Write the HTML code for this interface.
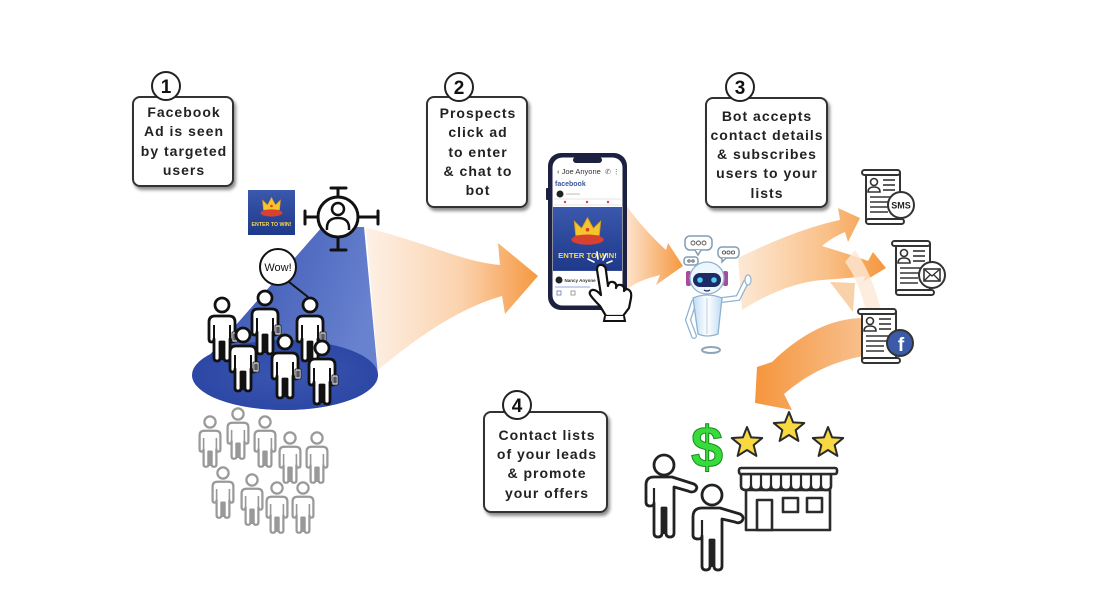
<!DOCTYPE html>
<html><head><meta charset="utf-8"><style>
html,body{margin:0;padding:0;background:#fff;}
svg{display:block;}
.bt{font-family:"Liberation Sans",Arial,sans-serif;font-weight:bold;font-size:14px;letter-spacing:1px;fill:#222;}
.num{font-family:"Liberation Sans",Arial,sans-serif;font-weight:bold;font-size:19px;fill:#111;}
</style></head><body>
<svg width="1100" height="602" viewBox="0 0 1100 602" xmlns="http://www.w3.org/2000/svg">
<defs>
 <filter id="sh" x="-10%" y="-10%" width="130%" height="140%"><feDropShadow dx="2" dy="3" stdDeviation="1.6" flood-color="#000" flood-opacity="0.45"/></filter>
 <linearGradient id="cone" x1="0" y1="0" x2="1" y2="0.3"><stop offset="0" stop-color="#2e4aa9"/><stop offset="1" stop-color="#6882cf"/></linearGradient>
 <radialGradient id="ell" cx="0.5" cy="0.5" r="0.6"><stop offset="0" stop-color="#3a56b2"/><stop offset="1" stop-color="#2a44a2"/></radialGradient>
 <linearGradient id="ar1" x1="366" y1="0" x2="540" y2="0" gradientUnits="userSpaceOnUse"><stop offset="0" stop-color="#fdf1e6"/><stop offset="0.55" stop-color="#fbd2ad"/><stop offset="1" stop-color="#f5963d"/></linearGradient>
 <linearGradient id="ar2" x1="624" y1="0" x2="684" y2="0" gradientUnits="userSpaceOnUse"><stop offset="0" stop-color="#fde6d2"/><stop offset="1" stop-color="#f5963d"/></linearGradient>
 <linearGradient id="ar3" x1="738" y1="0" x2="886" y2="0" gradientUnits="userSpaceOnUse"><stop offset="0" stop-color="#fde9d6"/><stop offset="0.6" stop-color="#f9c088"/><stop offset="1" stop-color="#f5963d"/></linearGradient>
 <linearGradient id="ar4" x1="862" y1="0" x2="755" y2="0" gradientUnits="userSpaceOnUse"><stop offset="0" stop-color="#f8bf8c"/><stop offset="1" stop-color="#f5963d"/></linearGradient>
 <linearGradient id="adbg" x1="0" y1="0" x2="0" y2="1"><stop offset="0" stop-color="#3a58ad"/><stop offset="1" stop-color="#1f398a"/></linearGradient>
 <linearGradient id="rb" x1="0" y1="0" x2="1" y2="0"><stop offset="0" stop-color="#bfdcf3"/><stop offset="0.5" stop-color="#ffffff"/><stop offset="1" stop-color="#bfdcf3"/></linearGradient>

 <g id="person">
  <path d="M -13,17 Q -13,11 -7,11 L 7,11 Q 13,11 13,17 L 13,34 Q 13,37 10.5,37 Q 8,37 8,34 L 8,53 Q 8,56 5,56 Q 2,56 2,53 L 2,37 L -2,37 L -2,53 Q -2,56 -5,56 Q -8,56 -8,53 L -8,34 Q -8,37 -10.5,37 Q -13,37 -13,34 Z" fill="#fff" stroke="#111" stroke-width="2.8" stroke-linejoin="round"/>
  <line x1="-8" y1="20" x2="-8" y2="34" stroke="#111" stroke-width="2"/>
  <line x1="8" y1="20" x2="8" y2="34" stroke="#111" stroke-width="2"/>
  <line x1="0" y1="37" x2="0" y2="55" stroke="#111" stroke-width="2.5"/>
  <circle cx="0" cy="0" r="7" fill="#fff" stroke="#111" stroke-width="2.8"/>
  <rect x="10" y="27" width="6" height="10" rx="1" fill="#fff" stroke="#222" stroke-width="1"/>
  <rect x="11.2" y="28.5" width="3.6" height="7" fill="#556"/>
 </g>
 <g id="gperson">
  <path d="M -13,17 Q -13,11 -7,11 L 7,11 Q 13,11 13,17 L 13,34 Q 13,37 10.5,37 Q 8,37 8,34 L 8,53 Q 8,56 5,56 Q 2,56 2,53 L 2,37 L -2,37 L -2,53 Q -2,56 -5,56 Q -8,56 -8,53 L -8,34 Q -8,37 -10.5,37 Q -13,37 -13,34 Z" fill="#fff" stroke="#999" stroke-width="2.8" stroke-linejoin="round"/>
  <line x1="-8" y1="20" x2="-8" y2="34" stroke="#999" stroke-width="2"/>
  <line x1="8" y1="20" x2="8" y2="34" stroke="#999" stroke-width="2"/>
  <line x1="0" y1="37" x2="0" y2="55" stroke="#999" stroke-width="2.5"/>
  <circle cx="0" cy="0" r="7" fill="#fff" stroke="#999" stroke-width="2.8"/>
 </g>
 <g id="ad">
  <rect x="0" y="0" width="47" height="45" fill="url(#adbg)"/>
  <path d="M 15.5,20 L 14.5,10 L 19.5,15 L 23.5,7.5 L 27.5,15 L 32.5,10 L 31.5,20 Z" fill="#f6c52c" stroke="#d99a12" stroke-width="0.6"/>
  <circle cx="23.5" cy="16" r="1.3" fill="#d8412f"/>
  <ellipse cx="23.5" cy="23" rx="11" ry="3.6" fill="#d8412f"/>
  <text x="23.5" y="36" text-anchor="middle" font-family="Liberation Sans,Arial,sans-serif" font-weight="bold" font-size="5" fill="#f7d84a" textLength="40" lengthAdjust="spacingAndGlyphs">ENTER TO WIN!</text>
 </g>
 <g id="doc">
  <rect x="6" y="3" width="34" height="48" fill="#fff" stroke="#333" stroke-width="2"/>
  <rect x="2" y="0" width="38" height="5" rx="2.5" fill="#fff" stroke="#333" stroke-width="2"/>
  <rect x="6" y="49" width="38" height="5" rx="2.5" fill="#fff" stroke="#333" stroke-width="2"/>
  <circle cx="14" cy="12" r="3.5" fill="#fff" stroke="#333" stroke-width="1.6"/>
  <path d="M 8,22 Q 8,17 14,17 Q 20,17 20,22 Z" fill="#fff" stroke="#333" stroke-width="1.6"/>
  <g stroke="#333" stroke-width="1.6">
   <line x1="23" y1="10" x2="35" y2="10"/><line x1="23" y1="15" x2="35" y2="15"/><line x1="23" y1="20" x2="35" y2="20"/>
   <line x1="10" y1="27" x2="34" y2="27"/><line x1="10" y1="32" x2="32" y2="32"/><line x1="10" y1="37" x2="28" y2="37"/><line x1="10" y1="42" x2="28" y2="42"/>
  </g>
 </g>
 <path id="star" d="M0,-16 L4.11,-5.66 L15.22,-4.94 L6.66,2.16 L9.40,12.94 L0,7 L-9.40,12.94 L-6.66,2.16 L-15.22,-4.94 L-4.11,-5.66 Z" fill="#f8d941" stroke="#2a2a2a" stroke-width="2" stroke-linejoin="round"/>
</defs>

<rect width="1100" height="602" fill="#fff"/>

<!-- ARROWS -->
<path d="M 366,228 C 420,240 462,262 500,265 L 498,243 L 538,276 L 505,314 L 502,296 C 460,308 420,335 378,370 Z" fill="url(#ar1)"/>
<path d="M 626,205 C 640,225 655,240 666,250 L 668,243 L 683,266 L 656,285 L 660,275 C 648,278 636,282 626,290 Z" fill="url(#ar2)"/>
<path d="M 738,258 C 770,242 810,226 840,220 L 838,208 L 860,218 L 848,242 L 845,232 C 836,236 829,240 822,246 C 838,251 855,256 868,261 L 873,252 L 886,268 L 863,282 L 865,276 C 850,278 836,279 822,280 C 798,282 770,292 742,310 Z" fill="url(#ar3)"/>
<path d="M 830,282 L 855,283 L 853,312 Z" fill="#f8c594" opacity="0.8"/>
<path d="M 855,250 C 870,270 880,300 885,330 L 870,335 C 865,300 858,280 845,262 Z" fill="#fde8d6" opacity="0.8"/>
<path d="M 864,318 C 830,318 800,335 772,362 L 757,367 L 755,403 L 792,410 L 784,394 C 805,376 830,362 864,356 Z" fill="url(#ar4)"/>

<!-- CONE -->
<path d="M 322,227 L 364,227 L 378,375 A 93,35 0 0 1 192,375 Z" fill="url(#cone)"/>
<ellipse cx="285" cy="375" rx="93" ry="35" fill="url(#ell)"/>

<!-- Ad small -->
<use href="#ad" transform="translate(248,190)"/>

<!-- Target -->
<g stroke="#111" stroke-width="3" fill="none" stroke-linecap="round">
 <line x1="331" y1="188" x2="346" y2="188"/><line x1="338" y1="188" x2="338" y2="197"/>
 <line x1="331" y1="250" x2="346" y2="250"/><line x1="338" y1="237" x2="338" y2="250"/>
 <line x1="305" y1="211" x2="305" y2="224"/><line x1="305" y1="217" x2="318" y2="217"/>
 <line x1="378" y1="211" x2="378" y2="224"/><line x1="358" y1="217" x2="378" y2="217"/>
</g>
<circle cx="338" cy="217" r="20" fill="#fff" stroke="#111" stroke-width="3"/>
<circle cx="338" cy="209" r="6" fill="#fff" stroke="#111" stroke-width="2.5"/>
<path d="M 327,230 Q 326,218 338,218 Q 350,218 349,230" fill="none" stroke="#111" stroke-width="2.5"/>

<!-- Wow -->
<line x1="284" y1="278" x2="308" y2="297" stroke="#111" stroke-width="2"/>
<circle cx="278" cy="267" r="18" fill="#fff" stroke="#111" stroke-width="2"/>
<text x="278" y="271" text-anchor="middle" font-family="Liberation Sans,Arial,sans-serif" font-size="11" fill="#111">Wow!</text>

<!-- people in cone -->
<use href="#person" transform="translate(222,305)"/>
<use href="#person" transform="translate(265,298)"/>
<use href="#person" transform="translate(310,305)"/>
<use href="#person" transform="translate(243,335)"/>
<use href="#person" transform="translate(285,342)"/>
<use href="#person" transform="translate(322,348)"/>

<!-- gray people -->
<use href="#gperson" transform="translate(210,422) scale(0.8)"/>
<use href="#gperson" transform="translate(238,414) scale(0.8)"/>
<use href="#gperson" transform="translate(265,422) scale(0.8)"/>
<use href="#gperson" transform="translate(290,438) scale(0.8)"/>
<use href="#gperson" transform="translate(317,438) scale(0.8)"/>
<use href="#gperson" transform="translate(223,473) scale(0.8)"/>
<use href="#gperson" transform="translate(252,480) scale(0.8)"/>
<use href="#gperson" transform="translate(277,488) scale(0.8)"/>
<use href="#gperson" transform="translate(303,488) scale(0.8)"/>

<!-- BOX 1 -->
<rect x="133" y="97" width="100" height="89" rx="7" fill="#fff" stroke="#333" stroke-width="2" filter="url(#sh)"/>
<circle cx="166" cy="86" r="14" fill="#fff" stroke="#222" stroke-width="2"/>
<text class="num" x="166" y="93" text-anchor="middle">1</text>
<text class="bt" x="184" y="117" text-anchor="middle">Facebook</text>
<text class="bt" x="184" y="136" text-anchor="middle">Ad is seen</text>
<text class="bt" x="184" y="156" text-anchor="middle">by targeted</text>
<text class="bt" x="184" y="175" text-anchor="middle">users</text>

<!-- BOX 2 -->
<rect x="427" y="97" width="100" height="110" rx="7" fill="#fff" stroke="#333" stroke-width="2" filter="url(#sh)"/>
<circle cx="459" cy="87" r="14" fill="#fff" stroke="#222" stroke-width="2"/>
<text class="num" x="459" y="94" text-anchor="middle">2</text>
<text class="bt" x="478" y="118" text-anchor="middle">Prospects</text>
<text class="bt" x="478" y="137" text-anchor="middle">click ad</text>
<text class="bt" x="478" y="157" text-anchor="middle">to enter</text>
<text class="bt" x="478" y="176" text-anchor="middle">&amp; chat to</text>
<text class="bt" x="478" y="195" text-anchor="middle">bot</text>

<!-- BOX 3 -->
<rect x="706" y="98" width="121" height="109" rx="7" fill="#fff" stroke="#333" stroke-width="2" filter="url(#sh)"/>
<circle cx="740" cy="87" r="14" fill="#fff" stroke="#222" stroke-width="2"/>
<text class="num" x="740" y="94" text-anchor="middle">3</text>
<text class="bt" x="767" y="121" text-anchor="middle">Bot accepts</text>
<text class="bt" x="767" y="140" text-anchor="middle">contact details</text>
<text class="bt" x="767" y="159" text-anchor="middle">&amp; subscribes</text>
<text class="bt" x="767" y="178" text-anchor="middle">users to your</text>
<text class="bt" x="767" y="198" text-anchor="middle">lists</text>

<!-- BOX 4 -->
<rect x="484" y="412" width="123" height="100" rx="7" fill="#fff" stroke="#333" stroke-width="2" filter="url(#sh)"/>
<circle cx="517" cy="405" r="14" fill="#fff" stroke="#222" stroke-width="2"/>
<text class="num" x="517" y="412" text-anchor="middle">4</text>
<text class="bt" x="547" y="440" text-anchor="middle">Contact lists</text>
<text class="bt" x="547" y="459" text-anchor="middle">of your leads</text>
<text class="bt" x="547" y="478" text-anchor="middle">&amp; promote</text>
<text class="bt" x="547" y="498" text-anchor="middle">your offers</text>

<!-- PHONE -->
<rect x="546" y="188" width="3" height="12" rx="1" fill="#1c2142"/>
<rect x="548" y="153" width="79" height="157" rx="13" fill="#1c2142"/>
<rect x="552.5" y="157.5" width="70" height="148" rx="10" fill="#fff"/>
<rect x="573" y="157" width="29" height="6" rx="3" fill="#1c2142"/>
<text x="557" y="174" font-family="Liberation Sans,Arial,sans-serif" font-size="7.5" fill="#333">‹ Joe Anyone</text>
<text x="605" y="174" font-family="Liberation Sans,Arial,sans-serif" font-size="7" fill="#555">✆ ⋮</text>
<text x="555" y="186" font-family="Liberation Sans,Arial,sans-serif" font-weight="bold" font-size="7" fill="#3b5998">facebook</text>
<circle cx="560" cy="194" r="3.5" fill="#222"/>
<line x1="566" y1="194" x2="580" y2="194" stroke="#bbb" stroke-width="1"/>
<line x1="554" y1="199" x2="621" y2="199" stroke="#ddd" stroke-width="0.8"/>
<circle cx="565" cy="202" r="1.2" fill="#d44"/><circle cx="587" cy="202" r="1.2" fill="#d44"/><circle cx="608" cy="202" r="1.2" fill="#d44"/>
<line x1="554" y1="205" x2="621" y2="205" stroke="#ddd" stroke-width="0.8"/>
<use href="#ad" transform="translate(553,207) scale(1.468,1.42)"/>
<circle cx="559" cy="280" r="3.5" fill="#222"/>
<text x="564.5" y="282" font-family="Liberation Sans,Arial,sans-serif" font-weight="bold" font-size="4.5" fill="#333">Nancy Anyone</text>
<line x1="555" y1="287" x2="590" y2="287" stroke="#6a8ccc" stroke-width="0.8"/>
<rect x="557" y="291" width="4" height="4" fill="none" stroke="#5a78c0" stroke-width="0.8"/>
<rect x="571" y="291" width="4" height="4" fill="none" stroke="#888" stroke-width="0.8"/>
<!-- click rays -->
<g stroke="#fff" stroke-width="1.6" stroke-linecap="round">
 <line x1="597" y1="252" x2="598" y2="259"/><line x1="606" y1="254" x2="603" y2="260"/>
 <line x1="588" y1="259" x2="594" y2="262"/><line x1="612" y1="261" x2="607" y2="263"/>
</g>
<!-- hand -->
<path d="M 597,270 Q 597,264 602,265 Q 606,266 606,271 L 608,286 Q 609,281 613,282 Q 617,283 616,288 Q 617,284 621,285 Q 625,286 624,291 Q 626,288 629,290 Q 632,292 631,298 L 629,308 L 623,316 L 606,316 L 600,306 Q 594,300 591,296 Q 588,292 592,290 Q 596,289 601,295 Z" fill="#fff" stroke="#111" stroke-width="2.2" stroke-linejoin="round"/>
<path d="M 605,316 L 604,321 L 625,321 L 624,316" fill="#fff" stroke="#111" stroke-width="2"/>

<!-- ROBOT -->
<g stroke="#7f9db5" stroke-width="1.5">
 <rect x="685" y="236" width="27" height="14" rx="5" fill="#fff"/>
 <path d="M 695,250 L 698,255 L 701,250" fill="#fff"/>
 <rect x="718" y="247" width="21" height="11" rx="4" fill="#fff"/>
 <path d="M 722,258 L 722,262 L 726,258" fill="#fff"/>
 <rect x="684" y="257" width="14" height="8" rx="3" fill="#fff"/>
</g>
<g fill="none" stroke="#555" stroke-width="0.9">
 <circle cx="693" cy="243" r="2"/><circle cx="698.5" cy="243" r="2"/><circle cx="704" cy="243" r="2"/>
 <circle cx="724" cy="252.5" r="1.6"/><circle cx="728.5" cy="252.5" r="1.6"/><circle cx="733" cy="252.5" r="1.6"/>
 <circle cx="689" cy="261" r="1.2"/><circle cx="693" cy="261" r="1.2"/>
</g>
<path d="M 722,300 L 738,298 L 746,282" fill="none" stroke="#8fb3d3" stroke-width="6" stroke-linecap="round"/>
<path d="M 722,300 L 738,298 L 746,282" fill="none" stroke="#fff" stroke-width="3.5" stroke-linecap="round"/>
<ellipse cx="748" cy="280" rx="3" ry="5" fill="#fff" stroke="#8fb3d3" stroke-width="1.2"/>
<path d="M 694,302 L 688,320 L 694,336" fill="none" stroke="#8fb3d3" stroke-width="6" stroke-linecap="round"/>
<path d="M 694,302 L 688,320 L 694,336" fill="none" stroke="#fff" stroke-width="3.5" stroke-linecap="round"/>
<path d="M 693,298 Q 707,292 722,298 L 718,334 Q 707,338 698,334 Z" fill="url(#rb)" stroke="#8fb1cf" stroke-width="1.3"/>
<line x1="707" y1="298" x2="707" y2="334" stroke="#b5cfe4" stroke-width="1"/>
<rect x="686" y="271" width="5" height="15" rx="2" fill="#a94a9a"/>
<rect x="723" y="271" width="5" height="15" rx="2" fill="#a94a9a"/>
<ellipse cx="707" cy="278" rx="17" ry="16" fill="#eef6fd" stroke="#8fb1cf" stroke-width="1.3"/>
<rect x="693" y="273" width="28" height="14" rx="7" fill="#1d2a66"/>
<circle cx="700" cy="280" r="2.8" fill="#4fd0f2"/>
<circle cx="714" cy="280" r="2.8" fill="#4fd0f2"/>
<path d="M 704,290 Q 707,292 710,290" fill="none" stroke="#1d2a66" stroke-width="1.2"/>
<ellipse cx="711" cy="350" rx="9" ry="3" fill="none" stroke="#8fa6b8" stroke-width="2"/>

<!-- DOCS -->
<use href="#doc" transform="translate(860,170)"/>
<circle cx="901" cy="205" r="13" fill="#fff" stroke="#333" stroke-width="2"/>
<text x="901" y="208.5" text-anchor="middle" font-family="Liberation Sans,Arial,sans-serif" font-weight="bold" font-size="9" fill="#222">SMS</text>

<use href="#doc" transform="translate(890,241)"/>
<circle cx="932" cy="275" r="13" fill="#fff" stroke="#333" stroke-width="2"/>
<rect x="924" y="269" width="16" height="12" fill="#fff" stroke="#333" stroke-width="1.6"/>
<path d="M 924,269 L 932,276 L 940,269 M 924,281 L 930,275 M 940,281 L 934,275" fill="none" stroke="#333" stroke-width="1.4"/>

<use href="#doc" transform="translate(856,309)"/>
<circle cx="900" cy="343" r="13" fill="#3b5aa8" stroke="#333" stroke-width="2"/>
<text x="901" y="351" text-anchor="middle" font-family="Liberation Sans,Arial,sans-serif" font-weight="bold" font-size="19" fill="#fff">f</text>

<!-- STORE AREA -->
<text x="707" y="467" text-anchor="middle" font-family="Liberation Sans,Arial,sans-serif" font-weight="bold" font-size="58" fill="#35dc3a" stroke="#1d8a22" stroke-width="1">$</text>
<use href="#star" transform="translate(747,443)"/>
<use href="#star" transform="translate(789,428)"/>
<use href="#star" transform="translate(828,443)"/>

<g stroke="#2b2b2b" stroke-width="2.6" fill="#fff" stroke-linejoin="round">
 <rect x="746" y="490" width="84" height="40"/>
 <rect x="757" y="500" width="15" height="30"/>
 <rect x="783" y="498" width="15" height="14"/>
 <rect x="807" y="498" width="15" height="14"/>
 <path d="M 741,474 L 741,486 Q 741,490 746,490 Q 751,490 751,486 Q 751,490 756,490 Q 761,490 761,486 Q 761,490 766,490 Q 771,490 771,486 Q 771,490 776,490 Q 781,490 781,486 Q 781,490 786,490 Q 791,490 791,486 Q 791,490 796,490 Q 801,490 801,486 Q 801,490 806,490 Q 811,490 811,486 Q 811,490 816,490 Q 821,490 821,486 Q 821,490 826,490 Q 831,490 831,486 L 831,474 Z"/>
 <rect x="739" y="468" width="98" height="6" rx="2"/>
</g>
<g stroke="#2b2b2b" stroke-width="2.2">
 <line x1="751" y1="474" x2="751" y2="486"/><line x1="761" y1="474" x2="761" y2="486"/><line x1="771" y1="474" x2="771" y2="486"/>
 <line x1="781" y1="474" x2="781" y2="486"/><line x1="791" y1="474" x2="791" y2="486"/><line x1="801" y1="474" x2="801" y2="486"/>
 <line x1="811" y1="474" x2="811" y2="486"/><line x1="821" y1="474" x2="821" y2="486"/>
</g>

<!-- person 1 -->
<path d="M 646,485 Q 646,477 654,477 L 672,477 L 694,484 Q 699,487 695,491 Q 692,493 688,491 L 674,487 L 674,503 L 674,533 Q 674,537 670,537 Q 666,537 666,533 L 666,508 L 662,508 L 662,533 Q 662,537 658,537 Q 654,537 654,533 L 654,503 Q 654,506 650,506 Q 646,506 646,502 Z" fill="#fff" stroke="#222" stroke-width="2.8" stroke-linejoin="round"/>
<line x1="654" y1="488" x2="654" y2="503" stroke="#222" stroke-width="2.2"/>
<line x1="664" y1="508" x2="664" y2="534" stroke="#222" stroke-width="2.5"/>
<circle cx="664" cy="465" r="10" fill="#fff" stroke="#222" stroke-width="2.8"/>
<!-- person 2 -->
<path d="M 693,517 Q 693,508 702,508 L 720,508 L 740,514 Q 745,517 742,521 Q 739,524 735,522 L 722,519 L 722,536 L 722,566 Q 722,570 718,570 Q 714,570 714,566 L 714,540 L 710,540 L 710,566 Q 710,570 706,570 Q 702,570 702,566 L 702,536 Q 702,539 698,539 Q 693,539 693,535 Z" fill="#fff" stroke="#222" stroke-width="2.8" stroke-linejoin="round"/>
<line x1="702" y1="520" x2="702" y2="536" stroke="#222" stroke-width="2.2"/>
<line x1="712" y1="540" x2="712" y2="567" stroke="#222" stroke-width="2.5"/>
<circle cx="712" cy="495" r="10" fill="#fff" stroke="#222" stroke-width="2.8"/>
</svg>
</body></html>
